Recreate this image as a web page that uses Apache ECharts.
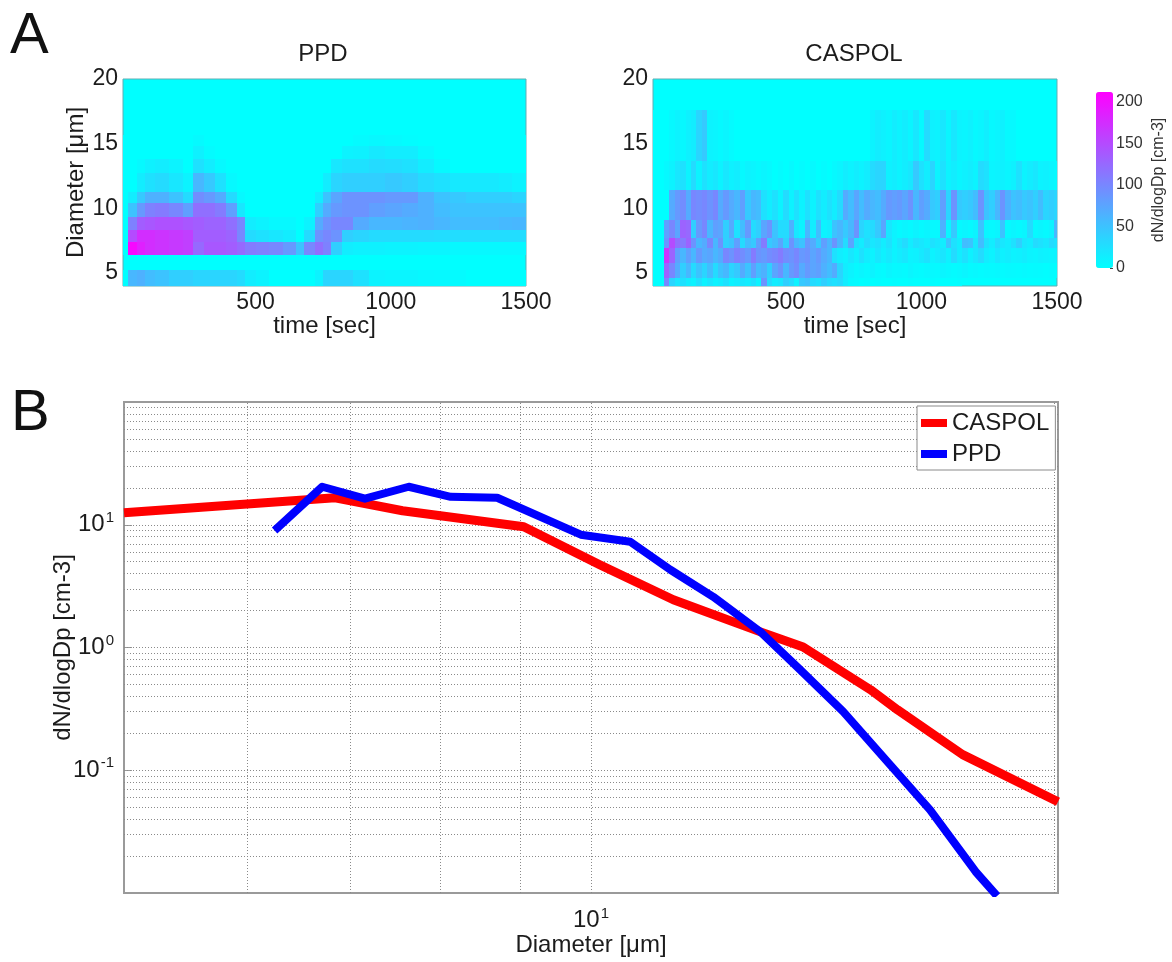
<!DOCTYPE html>
<html>
<head>
<meta charset="utf-8">
<style>html,body{margin:0;padding:0;background:#fff}#c{width:1172px;height:962px}</style>
<script src="https://cdn.jsdelivr.net/npm/echarts@6/dist/echarts.min.js"></script>
</head>
<body>
<div id="c"></div>
<script>
// ---- panel A, PPD ----
const ppdTimeEdges = [10,30,60,90,130,180,230,270,310,350,390,430,460,500,550,600,650,680,720,750,780,820,860,920,980,1040,1100,1160,1220,1280,1340,1400,1450,1500];
const ppdDiameterEdges = [4,5.2,6.4,7.4,8.3,9.3,10.4,11.3,12.7,13.8,14.8,15.7];
const ppdRow0 = [0,60,65,55,50,40,40,35,35,35,35,30,15,10,0,0,0,0,10,35,35,35,25,10,8,8,6,5,3,0,0,0,0];
const ppdRow1 = [];
const ppdRow2 = [0,205,185,175,170,165,160,125,140,140,135,125,110,105,100,85,50,100,120,105,40,15,12,12,10,10,8,8,6,6,6,6,6];
const ppdRow3 = [0,150,175,175,170,165,160,135,135,135,130,100,30,25,20,15,0,30,90,100,90,40,35,30,30,30,30,28,28,28,28,28,28];
const ppdRow4 = [0,105,135,140,145,145,140,135,130,130,120,100,15,10,5,5,0,10,70,90,100,100,70,60,60,62,65,60,55,55,55,58,60];
const ppdRow5 = [0,50,85,105,110,100,80,120,120,110,80,20,0,0,0,0,0,0,40,70,85,90,90,80,75,70,65,55,50,50,50,50,50];
const ppdRow6 = [0,15,45,65,65,50,30,95,85,70,30,5,0,0,0,0,0,0,15,50,75,90,90,90,85,85,65,50,45,40,40,40,35];
const ppdRow7 = [0,0,15,25,30,20,10,60,45,25,5,0,0,0,0,0,0,0,0,15,35,40,40,40,45,40,30,25,18,18,18,15,10];
const ppdRow8 = [0,0,5,12,15,10,0,25,15,5,0,0,0,0,0,0,0,0,0,0,20,25,25,30,28,25,15,5,0,0,0,0,0];
const ppdRow9 = [0,0,0,0,0,0,0,12,3,0,0,0,0,0,0,0,0,0,0,0,0,10,12,18,15,15,5,0,0,0,0,0,0];
const ppdRow10 = [0,0,0,0,0,0,0,4,0,0,0,0,0,0,0,0,0,0,0,0,0,0,3,6,4,2,0,0,0,0,0,0,0];
const ppdRows = [ppdRow0,ppdRow1,ppdRow2,ppdRow3,ppdRow4,ppdRow5,ppdRow6,ppdRow7,ppdRow8,ppdRow9,ppdRow10];

// ---- panel A, CASPOL ----
const caspolTimeEdges = [10,30,50,70,90,110,130,150,170,190,210,230,250,270,290,310,330,350,370,390,410,430,450,470,490,510,530,550,570,590,610,630,650,670,690,710,730,750,770,790,810,830,850,870,890,910,930,950,970,990,1010,1030,1050,1070,1090,1110,1130,1150,1170,1190,1210,1230,1250,1270,1290,1310,1330,1350,1370,1390,1410,1430,1450,1470,1490,1500];
const caspolDiameterEdges = [4,4.6,5.8,6.9,7.7,9.1,11.4,13.7,17.6];
const caspolRow0 = [0,0,100,35,20,25,15,10,25,10,20,10,15,25,10,15,20,15,25,10,90,30,15,20,40,30,10,45,50,30,25,40,30,25,30,15,5,3,0,2,0,2,0,0,2,0,0,2,0,0,0,2,0,0,0,0,2];
const caspolRow1 = [0,0,130,100,70,40,60,30,50,35,55,30,50,60,35,45,70,50,80,55,65,40,75,90,60,85,95,70,85,75,80,65,55,70,35,15,10,5,8,5,10,5,3,8,5,6,4,8,5,3,6,5,4,8,6,3,5,8,4,6,3,5,4,6,3,5,4,3,5,3,4,3,2,3,2];
const caspolRow2 = [0,0,170,130,80,60,80,60,85,70,75,60,70,100,90,105,95,85,110,90,85,95,100,110,95,90,100,85,90,75,85,70,60,25,15,10,20,12,25,15,10,20,12,18,10,15,20,10,12,18,25,10,15,22,12,30,15,25,12,20,30,15,10,20,12,15,10,12,15,10,8,12,10,8,10];
const caspolRow3 = [0,0,90,150,120,110,130,90,60,70,100,60,90,40,50,80,30,55,45,80,110,45,55,75,40,90,60,50,85,70,45,80,60,90,60,30,75,25,15,30,20,25,15,25,10,20,30,15,25,20,15,25,20,15,50,25,15,55,50,20,55,25,15,30,20,15,25,40,20,15,30,25,20,30,25];
const caspolRow4 = [0,0,80,100,75,130,125,40,85,100,60,80,75,40,70,25,55,85,30,40,75,90,50,30,30,65,20,10,60,15,55,10,15,50,60,45,60,90,35,25,30,45,75,20,10,5,8,5,10,5,8,5,5,65,8,45,5,8,5,10,50,8,5,8,50,5,8,5,8,30,5,8,5,10,60];
const caspolRow5 = [0,0,0,70,85,95,70,100,95,100,90,100,70,85,70,60,80,45,60,55,25,15,25,10,30,10,25,10,25,10,25,15,25,15,30,70,55,75,55,70,60,55,70,85,80,85,75,90,60,80,70,45,40,80,35,90,45,40,45,55,90,50,40,60,90,65,50,55,45,50,40,55,35,40,35];
const caspolRow6 = [0,0,5,10,20,25,10,30,10,25,15,20,10,20,12,15,5,10,8,5,8,5,0,3,0,5,0,3,0,5,0,3,0,5,8,15,10,15,10,15,30,35,35,12,15,10,15,20,45,25,15,35,10,25,10,15,8,12,15,10,30,25,8,10,12,8,12,25,10,15,20,10,12,8,5];
const caspolRow7 = [0,0,0,6,10,6,12,15,35,45,10,8,5,8,3,0,0,0,0,0,0,0,0,0,0,0,0,0,0,0,0,0,0,0,0,0,0,0,0,0,10,15,12,8,15,10,15,8,20,5,30,12,10,20,8,20,10,8,12,6,8,14,6,8,12,5,5];
const caspolRows = [caspolRow0,caspolRow1,caspolRow2,caspolRow3,caspolRow4,caspolRow5,caspolRow6,caspolRow7];

// ---- axis ticks ----
const timeTicks = [500,1000,1500];
const diameterTicks = [5,10,15,20];
const colorTicks = [0,50,100,150,200];

// ---- panel B ----
const caspolX = [5,6.84,7.56,9.05,10.13,11.3,12.86,13.7,15.14,15.76,17.36,20];
const caspolY = [12.5,16.6,13.0,9.63,4.72,2.45,1.34,1.01,0.453,0.311,0.134,0.0553];
const ppdX = [6.28,6.71,7.15,7.63,8.12,8.70,9.85,10.6,11.25,11.99,12.86,13.64,14.54,15.55,16.54,17.7,18.2];
const ppdY = [9.45,20.4,16.3,20.4,16.9,16.6,8.3,7.27,4.3,2.59,1.34,0.659,0.300,0.115,0.0476,0.0149,0.01];
const xGridValues = [6,7,8,9,10,19.9];
const yGridValues = [0.02,0.03,0.04,0.05,0.06,0.07,0.08,0.09,0.1,0.2,0.3,0.4,0.5,0.6,0.7,0.8,0.9,1,2,3,4,5,6,7,8,9,10,20,30,40,50,60,70,80,90];

const FONT = '"Liberation Sans", Arial, sans-serif';
const INK = '#1c1c1c';
const FRAME = '#62adb3';

function cells(timeEdges, diamEdges, rows) {
  const out = [];
  rows.forEach((row, r) => row.forEach((v, c) => {
    if (c + 1 < timeEdges.length) out.push([timeEdges[c], timeEdges[c+1], diamEdges[r], diamEdges[r+1], v]);
  }));
  return out;
}
function renderCell(params, api) {
  const a = api.coord([api.value(0), api.value(2)]);
  const b = api.coord([api.value(1), api.value(3)]);
  const x0 = Math.round(a[0]), x1 = Math.round(b[0]), y0 = Math.round(b[1]), y1 = Math.round(a[1]);
  return {type:'rect', shape:{x:x0, y:y0, width:x1-x0, height:y1-y0}, style:{fill:api.visual('color')}};
}
function heatSeries(idx, data) {
  return {type:'custom', name:idx?'CASPOL map':'PPD map', xAxisIndex:idx, yAxisIndex:idx, data, renderItem:renderCell,
    encode:{x:[0,1], y:[2,3]}, clip:true, silent:true, animation:false, z:1};
}
function timeAxis(g) {
  return {type:'value', gridIndex:g, min:10, max:1500, name:'time [sec]', nameLocation:'middle', nameGap:28, nameMoveOverlap:false,
    nameTextStyle:{fontFamily:FONT, fontSize:24, color:INK},
    axisLine:{show:false}, axisTick:{show:false}, splitLine:{show:false},
    axisLabel:{customValues:timeTicks, formatter:v=>String(v), fontFamily:FONT, fontSize:23, color:INK, margin:5}};
}
function diamAxis(g, named) {
  return {type:'value', gridIndex:g, min:4, max:20, name:named?'Diameter [\u03bcm]':'', nameLocation:'middle', nameGap:35, nameMoveOverlap:false,
    nameTextStyle:{fontFamily:FONT, fontSize:24, color:INK},
    axisLine:{show:false}, axisTick:{show:false}, splitLine:{show:false},
    axisLabel:{customValues:diameterTicks, fontFamily:FONT, fontSize:23, color:INK, margin:5}};
}
function expLabel(v) {
  const e = Math.round(Math.log10(v));
  return '{a|10}{b|' + e + '}';
}
const expRich = {a:{fontFamily:FONT, fontSize:24, color:INK}, b:{fontFamily:FONT, fontSize:15, color:INK, padding:[0,0,14,1]}};

const chart = echarts.init(document.getElementById('c'), null, {renderer:'canvas'});
chart.setOption({
  animation:false,
  backgroundColor:'#fff',
  title:[
    {text:'A', left:10, top:8, textStyle:{fontFamily:FONT, fontSize:58, fontWeight:'normal', color:'#111'}, padding:0},
    {text:'B', left:11, top:385, textStyle:{fontFamily:FONT, fontSize:58, fontWeight:'normal', color:'#111'}, padding:0},
    {text:'PPD', left:323, top:42, textAlign:'center', textStyle:{fontFamily:FONT, fontSize:24, fontWeight:'normal', color:INK}, padding:0},
    {text:'CASPOL', left:854, top:42, textAlign:'center', textStyle:{fontFamily:FONT, fontSize:24, fontWeight:'normal', color:INK}, padding:0}
  ],
  grid:[
    {left:123, top:79, width:403, height:207, show:true, backgroundColor:'#00ffff', borderColor:FRAME, borderWidth:1, outerBoundsMode:'none'},
    {left:653, top:79, width:404, height:207, show:true, backgroundColor:'#00ffff', borderColor:FRAME, borderWidth:1, outerBoundsMode:'none'},
    {left:1096, top:92, width:17, height:176, show:false, outerBoundsMode:'none'},
    {left:124, top:402, width:934, height:491, show:true, borderColor:'#9a9a9a', borderWidth:2, backgroundColor:'#fff', outerBoundsMode:'none'}
  ],
  xAxis:[
    timeAxis(0),
    timeAxis(1),
    {type:'value', gridIndex:2, min:0, max:1, show:false},
    {type:'log', gridIndex:3, logBase:10, min:5, max:20, name:'Diameter [\u03bcm]', nameLocation:'middle', nameGap:40, nameMoveOverlap:false,
      nameTextStyle:{fontFamily:FONT, fontSize:24, color:INK},
      axisLine:{show:false}, axisTick:{show:false}, splitLine:{show:false}, minorTick:{show:false},
      axisLabel:{customValues:[10], fontFamily:FONT, margin:13, rich:expRich, formatter:v => expLabel(v)}}
  ],
  yAxis:[
    diamAxis(0, true),
    diamAxis(1, false),
    {type:'value', gridIndex:2, min:0, max:212, position:'right', name:'dN/dlogDp [cm-3]', nameLocation:'middle', nameRotate:90, nameGap:38, nameMoveOverlap:false,
      nameTextStyle:{fontFamily:FONT, fontSize:16, color:'#333'},
      axisLine:{show:false, onZero:false}, splitLine:{show:false},
      axisTick:{show:true, customValues:colorTicks, inside:true, length:3, lineStyle:{color:'#444'}},
      axisLabel:{customValues:colorTicks, fontFamily:FONT, fontSize:16, color:'#333', margin:3}},
    {type:'log', gridIndex:3, logBase:10, min:0.01, max:100, name:'dN/dlogDp [cm-3]', nameLocation:'middle', nameRotate:90, nameGap:49, nameMoveOverlap:false,
      nameTextStyle:{fontFamily:FONT, fontSize:24, color:INK},
      axisLine:{show:false}, splitLine:{show:false}, minorTick:{show:false},
      axisTick:{show:true, inside:true, length:8, lineStyle:{color:'#999'}},
      axisLabel:{customValues:[0.1,1,10], fontFamily:FONT, margin:10, rich:expRich, formatter:v => expLabel(v)}}
  ],
  visualMap:[{
    type:'continuous', min:0, max:212, seriesIndex:[0,1], dimension:4, calculable:false, realtime:false,
    left:1096, top:92, itemWidth:17, itemHeight:176, padding:0, text:null, showLabel:false, hoverLink:false,
    inRange:{color:['#00ffff','#ff00ff']}
  }],
  legend:{
    show:true, data:['CASPOL','PPD'], orient:'vertical', left:917, top:406, width:139, icon:'rect', itemWidth:26, itemHeight:8, itemGap:7,
    padding:[5,6,4,4], backgroundColor:'#fff', borderColor:'#8a8a8a', borderWidth:1,
    textStyle:{fontFamily:FONT, fontSize:24, color:INK}, inactiveColor:'#ccc', selectedMode:false
  },
  series:[
    heatSeries(0, cells(ppdTimeEdges, ppdDiameterEdges, ppdRows)),
    heatSeries(1, cells(caspolTimeEdges, caspolDiameterEdges, caspolRows)),
    {type:'line', name:'CASPOL', xAxisIndex:3, yAxisIndex:3, data:caspolX.map((x,i)=>[x,caspolY[i]]), showSymbol:false, symbol:'none',
      lineStyle:{color:'#ff0000', width:9, join:'round'}, itemStyle:{color:'#ff0000'}, z:3, clip:true, animation:false,
      markLine:{silent:true, animation:false, symbol:'none', z:1, label:{show:false},
        lineStyle:{color:'#8a8a8a', width:1, type:[1,2]},
        data:xGridValues.map(v=>({xAxis:v})).concat(yGridValues.map(v=>({yAxis:v})))}},
    {type:'line', name:'PPD', xAxisIndex:3, yAxisIndex:3, data:ppdX.map((x,i)=>[x,ppdY[i]]), showSymbol:false, symbol:'none',
      lineStyle:{color:'#0000ff', width:8, join:'round', cap:'square'}, itemStyle:{color:'#0000ff'}, z:4, clip:true, animation:false}
  ]
});
</script>
</body>
</html>
